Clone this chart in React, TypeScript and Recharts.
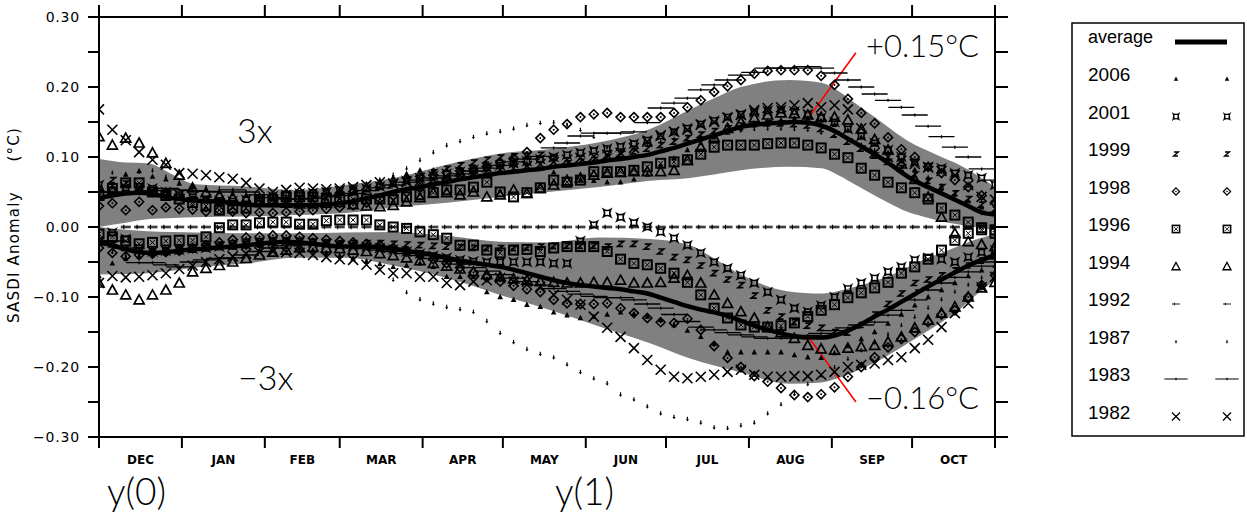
import React from "react";
import { ComposedChart, XAxis, YAxis, Area, Line, Scatter, ReferenceLine } from "recharts";

// ---- x grid (days after 1 Dec, pentads) ----
const days = [0,5,10,15,20,25,30,35,40,45,50,55,60,65,70,75,80,85,90,95,100,105,110,115,120,125,130,135,140,145,150,155,160,165,170,175,180,185,190,195,200,205,210,215,220,225,230,235,240,245,250,255,260,265,270,275,280,285,290,295,300,305,310,315,320,325,330,335];
const monthStarts = [0,31,62,90,121,151,182,212,243,274,304,335];
const monthMids = [15.5,46.5,76,105.5,136,166.5,197,227.5,258.5,289,319.5];
const monthNames = ["DEC","JAN","FEB","MAR","APR","MAY","JUN","JUL","AUG","SEP","OCT"];
const yTicks = [-0.3,-0.25,-0.2,-0.15,-0.1,-0.05,0,0.05,0.1,0.15,0.2,0.25,0.3];

// ---- shaded bands ----
const bandDays = [0,10,18,28,36,55,73,92,110,131,150,168,187,206,221,230,240,258,270,277,283,290,296,302,308,315,321,327,335];
const bandHiBot = [0.000,0.006,0.011,0.013,0.014,0.015,0.017,0.020,0.028,0.035,0.043,0.050,0.057,0.066,0.070,0.075,0.081,0.086,0.084,0.073,0.060,0.045,0.033,0.022,0.015,0.008,0.004,0.000,-0.004];
const bandHiTop = [0.097,0.092,0.091,0.074,0.061,0.058,0.053,0.060,0.070,0.090,0.105,0.111,0.121,0.140,0.168,0.184,0.200,0.210,0.206,0.193,0.176,0.157,0.140,0.124,0.112,0.100,0.090,0.077,0.057];
const bandLoTop = [0.000,-0.004,-0.006,-0.007,-0.008,-0.009,-0.009,-0.008,-0.007,-0.013,-0.021,-0.022,-0.015,-0.017,-0.026,-0.045,-0.068,-0.092,-0.095,-0.091,-0.085,-0.077,-0.069,-0.058,-0.047,-0.037,-0.028,-0.019,-0.010];
const bandLoBot = [-0.068,-0.067,-0.066,-0.062,-0.058,-0.052,-0.044,-0.044,-0.055,-0.074,-0.097,-0.118,-0.142,-0.166,-0.188,-0.198,-0.208,-0.224,-0.222,-0.215,-0.206,-0.194,-0.181,-0.167,-0.153,-0.136,-0.120,-0.100,-0.076];

// ---- averages ----
const avgHi = [0.041,0.045,0.048,0.049,0.047,0.043,0.040,0.038,0.037,0.036,0.034,0.032,0.031,0.031,0.031,0.031,0.031,0.032,0.034,0.037,0.041,0.045,0.050,0.054,0.057,0.061,0.064,0.068,0.071,0.074,0.077,0.079,0.081,0.083,0.086,0.088,0.090,0.092,0.095,0.097,0.100,0.103,0.108,0.113,0.119,0.125,0.131,0.137,0.143,0.146,0.148,0.149,0.150,0.149,0.145,0.137,0.126,0.115,0.104,0.092,0.078,0.066,0.057,0.048,0.039,0.030,0.021,0.018];
const avgLo = [-0.022,-0.026,-0.032,-0.036,-0.037,-0.036,-0.034,-0.032,-0.031,-0.029,-0.028,-0.026,-0.024,-0.022,-0.021,-0.022,-0.024,-0.026,-0.028,-0.028,-0.028,-0.029,-0.031,-0.034,-0.037,-0.040,-0.044,-0.048,-0.051,-0.054,-0.057,-0.061,-0.066,-0.071,-0.076,-0.080,-0.083,-0.085,-0.087,-0.089,-0.092,-0.095,-0.101,-0.107,-0.113,-0.118,-0.122,-0.127,-0.134,-0.141,-0.147,-0.152,-0.156,-0.158,-0.158,-0.155,-0.148,-0.139,-0.128,-0.118,-0.107,-0.096,-0.085,-0.075,-0.065,-0.055,-0.047,-0.040];

// ---- individual years (upper / lower composites) ----
const y2006Hi = [0.060,0.058,0.075,0.080,0.072,0.068,0.062,0.057,0.053,0.050,0.047,0.045,0.043,0.042,0.042,0.043,0.045,0.048,0.052,0.056,0.061,0.066,0.071,0.076,0.081,0.081,0.082,0.084,0.085,0.087,0.089,0.091,0.090,0.084,0.078,0.072,0.068,0.066,0.064,0.064,0.068,0.075,0.088,0.098,0.110,0.120,0.128,0.135,0.141,0.146,0.150,0.153,0.155,0.155,0.152,0.146,0.138,0.128,0.118,0.106,0.094,0.082,0.070,0.058,0.047,0.037,0.028,0.020];
const y2006Lo = [-0.070,-0.052,-0.045,-0.042,-0.040,-0.038,-0.036,-0.034,-0.032,-0.030,-0.029,-0.028,-0.027,-0.027,-0.028,-0.030,-0.033,-0.037,-0.041,-0.045,-0.049,-0.053,-0.057,-0.055,-0.052,-0.057,-0.071,-0.071,-0.071,-0.093,-0.100,-0.104,-0.111,-0.114,-0.122,-0.126,-0.130,-0.128,-0.125,-0.122,-0.124,-0.128,-0.133,-0.140,-0.148,-0.157,-0.167,-0.179,-0.179,-0.179,-0.179,-0.179,-0.183,-0.186,-0.187,-0.180,-0.170,-0.160,-0.150,-0.138,-0.125,-0.112,-0.100,-0.090,-0.080,-0.070,-0.062,-0.055];
const y2001Hi = [0.060,0.052,0.056,0.058,0.055,0.050,0.046,0.043,0.040,0.038,0.037,0.039,0.041,0.044,0.046,0.048,0.049,0.050,0.052,0.053,0.055,0.058,0.062,0.066,0.070,0.073,0.076,0.079,0.082,0.085,0.088,0.091,0.094,0.097,0.100,0.103,0.106,0.109,0.112,0.115,0.119,0.124,0.130,0.136,0.141,0.147,0.152,0.157,0.161,0.164,0.166,0.167,0.165,0.161,0.156,0.150,0.140,0.130,0.120,0.110,0.100,0.093,0.086,0.084,0.077,0.074,0.070,0.060];
const y2001Lo = [-0.020,-0.008,-0.017,-0.030,-0.035,-0.034,-0.033,-0.031,-0.030,-0.028,-0.027,-0.025,-0.023,-0.021,-0.020,-0.020,-0.022,-0.024,-0.026,-0.027,-0.028,-0.030,-0.032,-0.035,-0.038,-0.041,-0.044,-0.047,-0.049,-0.050,-0.050,-0.050,-0.050,-0.050,-0.052,-0.052,-0.020,0.003,0.020,0.014,0.006,0.000,-0.007,-0.016,-0.026,-0.037,-0.050,-0.059,-0.069,-0.080,-0.093,-0.104,-0.116,-0.121,-0.112,-0.100,-0.088,-0.080,-0.073,-0.064,-0.057,-0.047,-0.044,-0.046,-0.050,-0.043,-0.036,-0.033];
const y1999Hi = [0.050,0.067,0.062,0.055,0.050,0.046,0.043,0.040,0.038,0.036,0.034,0.033,0.033,0.034,0.035,0.037,0.040,0.043,0.046,0.050,0.054,0.058,0.063,0.068,0.073,0.078,0.083,0.088,0.092,0.096,0.099,0.101,0.102,0.103,0.098,0.091,0.093,0.096,0.100,0.104,0.108,0.112,0.117,0.122,0.127,0.132,0.137,0.141,0.145,0.147,0.148,0.148,0.147,0.145,0.140,0.132,0.122,0.112,0.102,0.093,0.084,0.075,0.066,0.057,0.048,0.040,0.032,0.025];
const y1999Lo = [-0.020,-0.025,-0.030,-0.033,-0.034,-0.033,-0.031,-0.029,-0.027,-0.025,-0.023,-0.021,-0.020,-0.019,-0.019,-0.020,-0.021,-0.022,-0.023,-0.023,-0.023,-0.023,-0.024,-0.025,-0.026,-0.027,-0.028,-0.029,-0.030,-0.030,-0.030,-0.030,-0.029,-0.028,-0.027,-0.027,-0.027,-0.027,-0.028,-0.024,-0.024,-0.028,-0.035,-0.043,-0.047,-0.055,-0.066,-0.075,-0.083,-0.098,-0.119,-0.128,-0.136,-0.141,-0.144,-0.150,-0.151,-0.140,-0.125,-0.110,-0.095,-0.080,-0.075,-0.069,-0.062,-0.055,-0.048,-0.042];
const y1998Hi = [0.030,0.034,0.024,0.036,0.024,0.028,0.026,0.025,0.022,0.024,0.022,0.020,0.021,0.020,0.021,0.022,0.024,0.026,0.028,0.031,0.035,0.040,0.045,0.050,0.056,0.062,0.068,0.074,0.080,0.086,0.092,0.098,0.107,0.127,0.139,0.147,0.157,0.161,0.163,0.157,0.157,0.157,0.157,0.163,0.171,0.181,0.193,0.201,0.210,0.219,0.223,0.224,0.224,0.224,0.216,0.203,0.183,0.163,0.148,0.128,0.111,0.100,0.086,0.077,0.067,0.057,0.045,0.035];
const y1998Lo = [-0.030,-0.037,-0.042,-0.040,-0.038,-0.036,-0.034,-0.030,-0.026,-0.022,-0.018,-0.015,-0.014,-0.012,-0.012,-0.014,-0.016,-0.018,-0.020,-0.022,-0.024,-0.026,-0.030,-0.035,-0.040,-0.046,-0.052,-0.058,-0.065,-0.072,-0.078,-0.084,-0.089,-0.093,-0.104,-0.109,-0.110,-0.110,-0.109,-0.116,-0.123,-0.130,-0.136,-0.137,-0.131,-0.147,-0.170,-0.187,-0.200,-0.213,-0.221,-0.230,-0.240,-0.243,-0.239,-0.229,-0.214,-0.200,-0.186,-0.172,-0.160,-0.150,-0.136,-0.125,-0.119,-0.100,-0.083,-0.069];
const y1996Hi = [0.045,0.055,0.063,0.063,0.050,0.045,0.040,0.035,0.030,0.024,0.027,0.027,0.039,0.039,0.043,0.043,0.043,0.041,0.040,0.040,0.040,0.040,0.039,0.043,0.046,0.049,0.053,0.053,0.057,0.064,0.050,0.043,0.049,0.056,0.067,0.064,0.067,0.079,0.079,0.079,0.081,0.086,0.091,0.093,0.096,0.104,0.114,0.117,0.117,0.117,0.119,0.120,0.120,0.117,0.113,0.104,0.099,0.084,0.074,0.064,0.056,0.049,0.040,0.027,0.017,0.007,-0.001,-0.004];
const y1996Lo = [-0.010,-0.014,-0.020,-0.024,-0.022,-0.020,-0.019,-0.019,-0.014,-0.001,0.003,0.003,0.006,0.007,0.007,0.004,0.004,0.009,0.010,0.010,0.010,0.003,0.000,-0.002,-0.007,-0.011,-0.016,-0.026,-0.026,-0.033,-0.037,-0.033,-0.032,-0.035,-0.030,-0.028,-0.028,-0.028,-0.035,-0.046,-0.052,-0.054,-0.059,-0.066,-0.079,-0.097,-0.116,-0.130,-0.140,-0.143,-0.143,-0.141,-0.137,-0.128,-0.119,-0.111,-0.101,-0.094,-0.087,-0.079,-0.066,-0.057,-0.046,-0.033,-0.019,-0.009,-0.004,-0.009];
const y1994Hi = [0.129,0.117,0.127,0.120,0.106,0.091,0.074,0.056,0.049,0.045,0.042,0.040,0.037,0.035,0.034,0.033,0.033,0.034,0.035,0.032,0.030,0.029,0.031,0.036,0.042,0.049,0.049,0.046,0.050,0.043,0.046,0.053,0.048,0.055,0.060,0.066,0.070,0.074,0.077,0.078,0.079,0.079,0.079,0.081,0.095,0.114,0.128,0.141,0.150,0.156,0.160,0.163,0.162,0.160,0.157,0.157,0.153,0.140,0.125,0.110,0.090,0.068,0.043,0.014,-0.009,-0.021,-0.025,-0.028];
const y1994Lo = [-0.080,-0.090,-0.097,-0.104,-0.097,-0.090,-0.080,-0.064,-0.059,-0.055,-0.050,-0.045,-0.040,-0.036,-0.033,-0.030,-0.029,-0.030,-0.031,-0.033,-0.035,-0.038,-0.041,-0.044,-0.048,-0.052,-0.056,-0.060,-0.064,-0.068,-0.071,-0.074,-0.076,-0.078,-0.079,-0.080,-0.080,-0.079,-0.079,-0.076,-0.080,-0.080,-0.079,-0.073,-0.069,-0.080,-0.097,-0.109,-0.121,-0.130,-0.143,-0.151,-0.159,-0.169,-0.174,-0.176,-0.173,-0.171,-0.169,-0.164,-0.157,-0.144,-0.133,-0.123,-0.114,-0.100,-0.087,-0.079];
const y1992Hi = [null,null,0.001,0.001,0.001,0.001,0.001,0.001,0.001,0.001,0.001,0.001,0.001,0.001,0.001,0.001,0.001,0.001,0.001,0.001,0.001,0.001,0.001,0.001,0.001,0.001,0.001,0.001,0.001,0.001,0.001,0.001,0.001,0.001,0.001,0.001,0.001,0.001,0.001,0.001,0.001,0.001,0.001,0.001,0.001,0.001,0.001,0.001,0.001,0.001,0.001,0.001,0.001,0.001,0.001,0.001,0.001,0.001,0.001,0.001,0.001,0.001,0.001,0.001,0.001,0.001,0.001,0.001];
const y1992Lo = [null,null,-0.001,-0.001,-0.001,-0.001,-0.001,-0.001,-0.001,-0.001,-0.001,-0.001,-0.001,-0.001,-0.001,-0.001,-0.001,-0.001,-0.001,-0.001,-0.001,-0.001,-0.001,-0.001,-0.001,-0.001,-0.001,-0.001,-0.001,-0.001,-0.001,-0.001,-0.001,-0.001,-0.001,-0.001,-0.001,-0.001,-0.001,-0.001,-0.001,-0.001,-0.001,-0.001,-0.001,-0.001,-0.001,-0.001,-0.001,-0.001,-0.001,-0.001,-0.001,-0.001,-0.001,-0.001,-0.001,-0.001,-0.001,-0.001,-0.001,-0.001,-0.001,-0.001,-0.001,-0.001,-0.001,-0.001];
const y1987Hi = [0.080,0.078,0.075,0.079,0.081,0.072,0.065,0.060,0.057,0.055,0.053,0.050,0.048,0.047,0.046,0.047,0.049,0.051,0.054,0.058,0.062,0.068,0.075,0.084,0.096,0.107,0.117,0.123,0.129,0.134,0.137,0.141,0.146,0.149,0.150,0.146,0.139,0.129,0.114,0.110,0.112,0.118,0.122,0.126,0.128,0.131,0.133,0.136,0.138,0.140,0.141,0.141,0.140,0.139,0.135,0.130,0.125,0.118,0.110,0.100,0.085,0.075,0.064,0.053,0.040,0.030,0.020,0.015];
const y1987Lo = [-0.030,-0.035,-0.040,-0.042,-0.040,-0.038,-0.036,-0.034,-0.032,-0.030,-0.030,-0.030,-0.031,-0.032,-0.033,-0.035,-0.037,-0.040,-0.043,-0.046,-0.050,-0.060,-0.075,-0.093,-0.103,-0.109,-0.114,-0.117,-0.121,-0.134,-0.151,-0.164,-0.174,-0.181,-0.186,-0.196,-0.207,-0.216,-0.223,-0.239,-0.246,-0.256,-0.266,-0.271,-0.274,-0.279,-0.286,-0.287,-0.283,-0.279,-0.266,-0.253,-0.238,-0.224,-0.212,-0.200,-0.188,-0.176,-0.165,-0.153,-0.140,-0.128,-0.115,-0.103,-0.092,-0.082,-0.072,-0.065];
const y1983Hi = [0.050,0.050,0.048,0.047,0.052,0.055,0.053,0.052,0.051,0.050,0.053,0.050,0.046,0.042,0.040,0.040,0.041,0.043,0.045,0.048,0.052,0.056,0.060,0.064,0.067,0.070,0.073,0.076,0.080,0.084,0.088,0.093,0.097,0.101,0.113,0.120,0.130,0.134,0.134,0.134,0.136,0.149,0.170,0.177,0.184,0.196,0.203,0.210,0.217,0.221,0.227,0.227,0.227,0.229,0.227,0.220,0.210,0.200,0.190,0.181,0.171,0.160,0.144,0.129,0.114,0.100,0.083,0.067];
const y1983Lo = [-0.020,-0.020,-0.030,-0.051,-0.051,-0.054,-0.057,-0.050,-0.047,-0.045,-0.044,-0.040,-0.035,-0.030,-0.027,-0.025,-0.025,-0.026,-0.027,-0.029,-0.031,-0.033,-0.035,-0.038,-0.041,-0.045,-0.049,-0.053,-0.058,-0.063,-0.068,-0.073,-0.078,-0.083,-0.088,-0.092,-0.096,-0.099,-0.101,-0.101,-0.104,-0.110,-0.116,-0.125,-0.135,-0.143,-0.147,-0.151,-0.154,-0.157,-0.159,-0.159,-0.157,-0.155,-0.152,-0.148,-0.144,-0.140,-0.136,-0.126,-0.119,-0.104,-0.090,-0.080,-0.072,-0.064,-0.056,-0.050];
const y1982Hi = [0.168,0.139,0.124,0.107,0.096,0.089,0.077,0.076,0.074,0.071,0.069,0.063,0.055,0.050,0.053,0.056,0.055,0.054,0.055,0.057,0.060,0.064,0.062,0.064,0.066,0.068,0.071,0.074,0.077,0.080,0.082,0.084,0.087,0.090,0.093,0.096,0.099,0.101,0.103,0.106,0.113,0.122,0.131,0.136,0.139,0.146,0.150,0.156,0.160,0.167,0.170,0.171,0.174,0.177,0.171,0.174,0.168,0.141,0.106,0.100,0.095,0.090,0.085,0.080,0.074,0.060,0.043,0.039];
const y1982Lo = [-0.080,-0.070,-0.072,-0.071,-0.069,-0.066,-0.060,-0.055,-0.050,-0.046,-0.042,-0.038,-0.036,-0.035,-0.036,-0.037,-0.040,-0.043,-0.046,-0.047,-0.054,-0.061,-0.066,-0.066,-0.071,-0.071,-0.080,-0.083,-0.078,-0.076,-0.073,-0.078,-0.078,-0.085,-0.097,-0.104,-0.111,-0.128,-0.144,-0.157,-0.173,-0.190,-0.204,-0.214,-0.216,-0.214,-0.211,-0.207,-0.204,-0.211,-0.214,-0.214,-0.213,-0.213,-0.211,-0.207,-0.200,-0.197,-0.195,-0.190,-0.186,-0.173,-0.161,-0.143,-0.123,-0.109,-0.086,-0.071];

const legendYears = ["2006","2001","1999","1998","1996","1994","1992","1987","1983","1982"];

// red pointer segments (data coordinates)
const pointerUp = [{ x: 266, y: 0.160 }, { x: 283, y: 0.249 }];
const pointerDown = [{ x: 266, y: -0.161 }, { x: 283, y: -0.25 }];

type Kind = "tri" | "cross4" | "z" | "diamond" | "box" | "triOpen" | "larrow" | "darrow" | "dash" | "x";

const yearSeries: { year: string; kind: Kind; hi: (number | null)[]; lo: (number | null)[] }[] = [
  { year: "1992", kind: "larrow", hi: y1992Hi, lo: y1992Lo },
  { year: "2006", kind: "tri", hi: y2006Hi, lo: y2006Lo },
  { year: "2001", kind: "cross4", hi: y2001Hi, lo: y2001Lo },
  { year: "1999", kind: "z", hi: y1999Hi, lo: y1999Lo },
  { year: "1987", kind: "darrow", hi: y1987Hi, lo: y1987Lo },
  { year: "1983", kind: "dash", hi: y1983Hi, lo: y1983Lo },
  { year: "1994", kind: "triOpen", hi: y1994Hi, lo: y1994Lo },
  { year: "1996", kind: "box", hi: y1996Hi, lo: y1996Lo },
  { year: "1998", kind: "diamond", hi: y1998Hi, lo: y1998Lo },
  { year: "1982", kind: "x", hi: y1982Hi, lo: y1982Lo },
];
const legendKinds: Record<string, Kind> = { "2006": "tri", "2001": "cross4", "1999": "z", "1998": "diamond", "1996": "box", "1994": "triOpen", "1992": "larrow", "1987": "darrow", "1983": "dash", "1982": "x" };

const pts = (arr: (number | null)[]) =>
  days.map((x, i) => ({ x, y: arr[i] })).filter((p) => p.y !== null && p.y !== undefined);

const bandHi = bandDays.map((x, i) => ({ x, r: [bandHiBot[i], bandHiTop[i]] }));
const bandLo = bandDays.map((x, i) => ({ x, r: [bandLoBot[i], bandLoTop[i]] }));

function Marker({ kind, cx, cy, s = 1 }: { kind: Kind; cx: number; cy: number; s?: number }) {
  if (cx == null || cy == null || isNaN(cx) || isNaN(cy)) return <g />;
  const t = `translate(${cx},${cy}) scale(${s})`;
  const k = "#000";
  switch (kind) {
    case "tri":
      return <g transform={t}><path d="M0,-3.2 L2.8,2.2 L-2.8,2.2 Z" fill={k} /></g>;
    case "cross4":
      return <g transform={t}><path d="M-3.5,-3.5 Q0,-1.6 3.5,-3.5 Q1.6,0 3.5,3.5 Q0,1.6 -3.5,3.5 Q-1.6,0 -3.5,-3.5 Z" fill="none" stroke={k} strokeWidth={1.6} /></g>;
    case "z":
      return <g transform={t}><path d="M-2.5,-2.5 L3,-2.5 L-3,2.5 L2.5,2.5" fill="none" stroke={k} strokeWidth={1.7} /></g>;
    case "diamond":
      return <g transform={t}><path d="M0,-4.5 L4.5,0 L0,4.5 L-4.5,0 Z" fill="none" stroke={k} strokeWidth={1.6} /><circle r={1} fill={k} /></g>;
    case "box":
      return <g transform={t}><rect x={-4.5} y={-4.5} width={9} height={9} fill="none" stroke={k} strokeWidth={2} /><path d="M-2.5,-2.5 L2.5,2.5 M2.5,-2.5 L-2.5,2.5" stroke={k} strokeWidth={1} /></g>;
    case "triOpen":
      return <g transform={t}><path d="M0,-5 L5,4 L-5,4 Z" fill="none" stroke={k} strokeWidth={1.7} /></g>;
    case "larrow":
      return <g transform={t}><path d="M-5,0 L5,0 M-2,-1.6 L-2,1.6" fill="none" stroke={k} strokeWidth={1.1} /></g>;
    case "darrow":
      return <g transform={t}><path d="M0,-2 L0,1" stroke={k} strokeWidth={1.2} /><path d="M-1.6,0.4 L1.6,0.4 L0,2.6 Z" fill={k} /></g>;
    case "dash":
      return <g transform={t}><path d="M-13,0 L13,0 M0,-1.5 L0,1.5" stroke={k} strokeWidth={1.3} /></g>;
    case "x":
    default:
      return <g transform={t}><path d="M-5,-5 L5,5 M5,-5 L-5,5" stroke={k} strokeWidth={1.6} /></g>;
  }
}

const fmtY = (v: number) => {
  const c = Math.round(v * 100);
  if (c % 10 !== 0) return "";
  return (c < 0 ? "\u2212" : "") + Math.abs(v).toFixed(2);
};

const thinFont = "Lato, 'Open Sans', sans-serif";

export default function App() {
  const W = 1247;
  const H = 518;
  return (
    <div style={{ position: "absolute", left: 0, top: 0, width: W, height: H, background: "#fff" }}>
      <ComposedChart width={W} height={H} margin={{ top: 0, right: 0, bottom: 0, left: 0 }}>
        <XAxis xAxisId="main" type="number" dataKey="x" domain={[0, 335]} allowDataOverflow ticks={monthStarts} interval={0}
          orientation="bottom" height={81} tickSize={11} tickFormatter={() => ""}
          axisLine={{ stroke: "#000", strokeWidth: 2 }} tickLine={{ stroke: "#000", strokeWidth: 2 }} />
        <XAxis xAxisId="top" type="number" dataKey="x" domain={[0, 335]} allowDataOverflow ticks={monthStarts} interval={0}
          orientation="top" height={17} tickSize={12} tickFormatter={() => ""}
          axisLine={{ stroke: "#000", strokeWidth: 2 }} tickLine={{ stroke: "#000", strokeWidth: 2 }} />
        <YAxis yAxisId="l" type="number" domain={[-0.3, 0.3]} allowDataOverflow ticks={yTicks} interval={0}
          width={99} tickSize={11} tickMargin={8} tickFormatter={fmtY}
          axisLine={{ stroke: "#000", strokeWidth: 2 }} tickLine={{ stroke: "#000", strokeWidth: 2 }}
          tick={{ fill: "#000", fontSize: 14, fontFamily: "DejaVu Sans", letterSpacing: 0.8 }} />
        <YAxis yAxisId="r" orientation="right" type="number" domain={[-0.3, 0.3]} allowDataOverflow ticks={yTicks} interval={0}
          width={252} tickSize={13} tickFormatter={() => ""}
          axisLine={{ stroke: "#000", strokeWidth: 2 }} tickLine={{ stroke: "#000", strokeWidth: 2 }} />

        <Area xAxisId="main" yAxisId="l" data={bandHi} dataKey="r" type="monotone" stroke="none" fill="#808080" fillOpacity={1} isAnimationActive={false} />
        <Area xAxisId="main" yAxisId="l" data={bandLo} dataKey="r" type="monotone" stroke="none" fill="#808080" fillOpacity={1} isAnimationActive={false} />

        {yearSeries.map((s) => (
          <Scatter key={s.year + "hi"} xAxisId="main" yAxisId="l" data={pts(s.hi)} dataKey="y" isAnimationActive={false}
            shape={(p: any) => <Marker kind={s.kind} cx={p.cx} cy={p.cy} />} />
        ))}
        {yearSeries.map((s) => (
          <Scatter key={s.year + "lo"} xAxisId="main" yAxisId="l" data={pts(s.lo)} dataKey="y" isAnimationActive={false}
            shape={(p: any) => <Marker kind={s.kind} cx={p.cx} cy={p.cy} />} />
        ))}

        <Line xAxisId="main" yAxisId="l" data={pts(avgHi)} dataKey="y" type="monotone" stroke="#000" strokeWidth={4.5} dot={false} isAnimationActive={false} />
        <Line xAxisId="main" yAxisId="l" data={pts(avgLo)} dataKey="y" type="monotone" stroke="#000" strokeWidth={4.5} dot={false} isAnimationActive={false} />

        <ReferenceLine xAxisId="main" yAxisId="l" segment={pointerUp} stroke="#ff0000" strokeWidth={1.6} ifOverflow="visible" />
        <ReferenceLine xAxisId="main" yAxisId="l" segment={pointerDown} stroke="#ff0000" strokeWidth={1.6} ifOverflow="visible" />

        {monthMids.map((m, i) => (
          <ReferenceLine key={"m" + i} xAxisId="main" yAxisId="l" x={m} stroke="none" ifOverflow="visible"
            label={{ value: monthNames[i], position: "bottom", offset: 18, fill: "#000", fontSize: 12, fontWeight: 700, fontFamily: "DejaVu Sans" }} />
        ))}
      </ComposedChart>

      <svg width={W} height={H} style={{ position: "absolute", left: 0, top: 0, pointerEvents: "none" }}>
        <text transform="translate(19,225) rotate(-90)" textAnchor="middle" fontSize={15} letterSpacing={1.2} fontFamily="DejaVu Sans" style={{ whiteSpace: "pre" }}>
          {"SASDI Anomaly     (\u00B0C)"}
        </text>
        <text x={866} y={57} fontSize={31} fontFamily={thinFont} fontWeight={300}>+0.15°C</text>
        <text x={866} y={409} fontSize={31} fontFamily={thinFont} fontWeight={300}>{"\u22120.16°C"}</text>
        <text x={237} y={143} fontSize={34} fontFamily={thinFont} fontWeight={300}>3x</text>
        <text x={238} y={390} fontSize={34} fontFamily={thinFont} fontWeight={300}>{"\u22123x"}</text>
        <text x={107} y={505} fontSize={37} fontFamily={thinFont} fontWeight={300}>y(0)</text>
        <text x={555} y={505} fontSize={37} fontFamily={thinFont} fontWeight={300}>y(1)</text>

        <rect x={1072} y={23} width={172} height={413} fill="none" stroke="#000" strokeWidth={1.5} />
        <text x={1088} y={43} fontSize={18} fontFamily="Liberation Sans">average</text>
        <line x1={1175} y1={42} x2={1227} y2={42} stroke="#000" strokeWidth={5} />
        {legendYears.map((yr, i) => {
          const cy = 74 + i * 37.5;
          const kind = legendKinds[yr];
          const sc = kind === "dash" ? 0.9 : 0.8;
          return (
            <g key={yr}>
              <text x={1088} y={cy + 7} fontSize={19} fontFamily="Liberation Sans">{yr}</text>
              <Marker kind={kind} cx={1176} cy={cy + 5} s={sc} />
              <Marker kind={kind} cx={1227} cy={cy + 5} s={sc} />
            </g>
          );
        })}
      </svg>
    </div>
  );
}
